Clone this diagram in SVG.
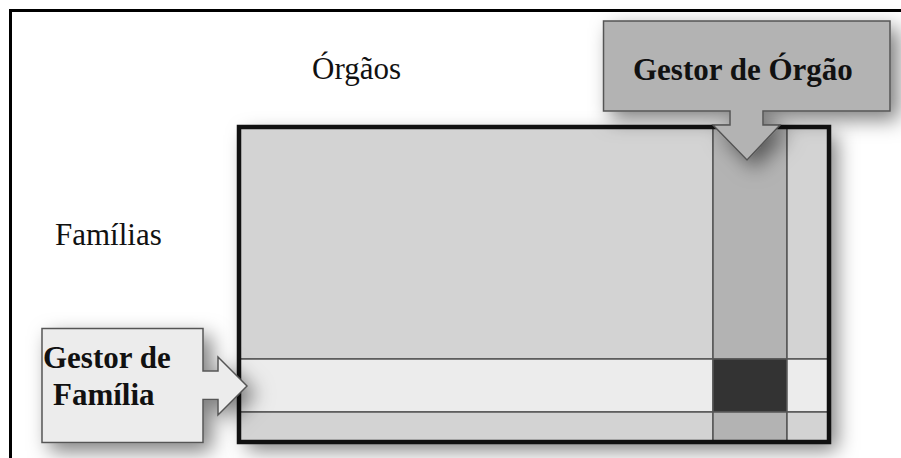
<svg xmlns="http://www.w3.org/2000/svg" width="901" height="458" viewBox="0 0 901 458">
  <style>
    .lbl { font-family: "Liberation Serif", "Times New Roman", serif; font-size: 31px; fill: #111; }
    .bold { font-weight: bold; }
    .cell { stroke: #555; stroke-width: 1.5; }
    .callout { stroke: #555; stroke-width: 1.5; stroke-linejoin: miter; }
  </style>
  <defs>
    <filter id="shadow" x="-20%" y="-20%" width="160%" height="160%">
      <feDropShadow dx="8" dy="8" stdDeviation="10" flood-color="#000" flood-opacity="0.5"/>
    </filter>
  </defs>

  <rect width="901" height="458" fill="#fff"/>

  <!-- page frame (open to the right and bottom) -->
  <path d="M10.5 470 V10.5 H910" fill="none" stroke="#000" stroke-width="3"/>

  <!-- axis labels -->
  <text class="lbl" x="312" y="79">Órgãos</text>
  <text class="lbl" x="55" y="245">Famílias</text>

  <!-- matrix of families x organs -->
  <g id="matrix">
    <rect x="239" y="127" width="590" height="315" fill="#d3d3d3" filter="url(#shadow)"/>
    <rect class="cell" x="239" y="127" width="474" height="232" fill="#d3d3d3"/>
    <rect class="cell" x="713" y="127" width="74" height="232" fill="#b3b3b3"/>
    <rect class="cell" x="787" y="127" width="42" height="232" fill="#d3d3d3"/>
    <rect class="cell" x="239" y="359" width="474" height="53" fill="#ececec"/>
    <rect class="cell" x="713" y="359" width="74" height="53" fill="#333333"/>
    <rect class="cell" x="787" y="359" width="42" height="53" fill="#ececec"/>
    <rect class="cell" x="239" y="412" width="474" height="30" fill="#d3d3d3"/>
    <rect class="cell" x="713" y="412" width="74" height="30" fill="#b3b3b3"/>
    <rect class="cell" x="787" y="412" width="42" height="30" fill="#d3d3d3"/>
    <rect x="239" y="127" width="590" height="315" fill="none" stroke="#111" stroke-width="4.5"/>
  </g>

  <!-- callout pointing down into the organ column -->
  <g id="gestor-orgao">
    <path class="callout" filter="url(#shadow)" fill="#b3b3b3"
          d="M603.5 21 H890 V111 H763 V125 H780 L747 160 L713 125 H730 V111 H603.5 Z"/>
    <text class="lbl bold" x="633" y="80">Gestor de Órgão</text>
  </g>

  <!-- callout pointing right into the family row -->
  <g id="gestor-familia">
    <path class="callout" filter="url(#shadow)" fill="#ececec"
          d="M42 328.5 H203 V371 H218 V357 L247 386 L218 415 V399.5 H203 V442.5 H42 Z"/>
    <text class="lbl bold" x="43" y="368">Gestor de</text>
    <text class="lbl bold" x="53" y="405">Família</text>
  </g>
</svg>
